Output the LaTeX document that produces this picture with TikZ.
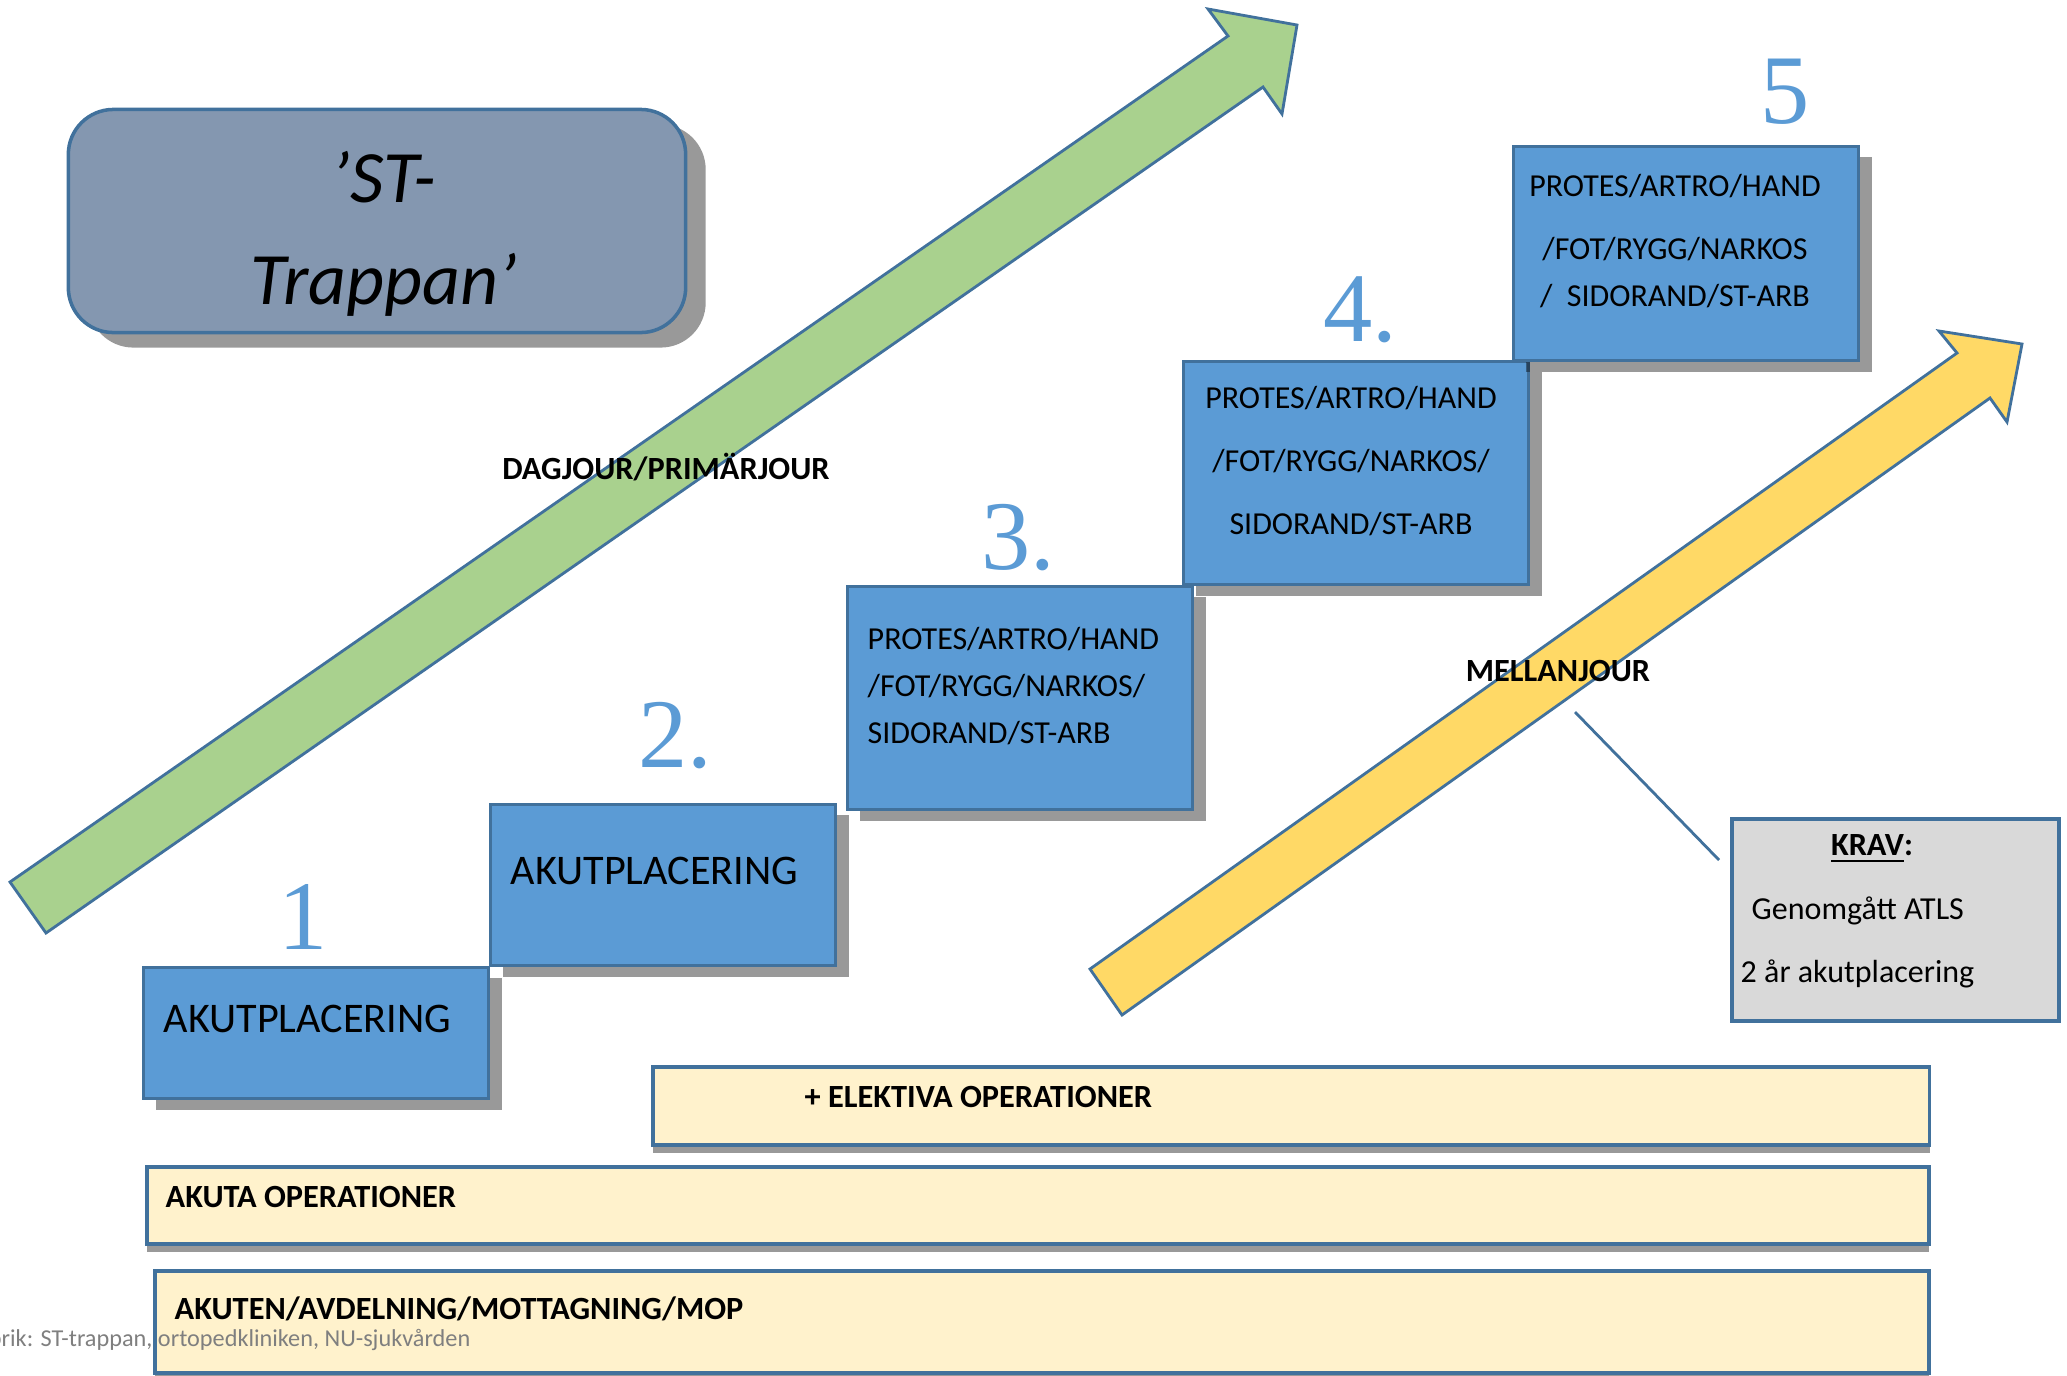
\documentclass[tikz,border=0pt]{standalone}
\usepackage{fontspec}
\setmainfont{Carlito}
\setsansfont{Carlito}
\newfontfamily\numfont{Liberation Serif}
\usetikzlibrary{shadows}

\definecolor{stepblue}{HTML}{5B9BD5}
\definecolor{edgeblue}{HTML}{41719C}
\definecolor{dagjour}{HTML}{A9D18E}
\definecolor{mellan}{HTML}{FFD966}
\definecolor{cream}{HTML}{FFF2CC}
\definecolor{kravgray}{HTML}{D9D9D9}
\definecolor{titlegray}{HTML}{8497B0}
\definecolor{footgray}{HTML}{7F7F7F}

\begin{document}
\begin{tikzpicture}[
   x=0.01cm,y=-0.01cm,
   font=\sffamily,
   shadowed/.style={drop shadow={shadow xshift=.13cm,shadow yshift=-.11cm,fill=black,opacity=.4}},
   stepbox/.style={draw=edgeblue,line width=.8pt,fill=stepblue,anchor=north west,inner sep=0pt,minimum width=3.45cm,shadowed},
   bar/.style={draw=edgeblue,line width=1pt,fill=cream,anchor=north west,inner sep=0pt,drop shadow={shadow xshift=0cm,shadow yshift=-.08cm,fill=black,opacity=.4}},
   num/.style={text=stepblue,font=\numfont\fontsize{28}{28}\selectfont,inner sep=0pt},
   steptext/.style={font=\fontsize{12}{14}\selectfont,inner sep=0pt,anchor=west},
   area/.style={font=\fontsize{9.1}{13.4}\selectfont,inner sep=0pt},
   lbl/.style={font=\bfseries\fontsize{9.2}{11}\selectfont,inner sep=0pt},
   jour/.style={draw=edgeblue,line width=.8pt}]
\useasboundingbox (0,0) rectangle (2067,1375);
\clip (0,0) rectangle (2067,1375);

% title
\node[draw=edgeblue,line width=1pt,fill=titlegray,rounded corners=.45cm,minimum width=6.17cm,minimum height=2.23cm,
      drop shadow={shadow xshift=.2cm,shadow yshift=-.15cm,fill=black,opacity=.4}] (title) at (377,221) {};
\node[font=\itshape\fontsize{21}{29}\selectfont,align=center,inner sep=0pt] (titletxt) at (384,234) {’ST-\\Trappan’};

% jour arrows
\draw[jour,fill=dagjour] (10,882) -- (1228,36) -- (1208,9) -- (1297,25) -- (1282,114) -- (1263,87) -- (46,933) -- cycle;
\draw[jour,fill=mellan] (1090,969) -- (1957,353) -- (1939,331) -- (2022,344) -- (2007,422) -- (1990,398) -- (1122,1015) -- cycle;
\node[lbl] (dag) at (666,467) {DAGJOUR/PRIMÄRJOUR};
\node[lbl] (mellanjour) at (1558,671) {MELLANJOUR};

% steps
\node[stepbox,minimum height=1.31cm] (s1) at (142,966) {};
\node[steptext] (s1txt) at (163,1019) {AKUTPLACERING};
\node[num] (n1) at (303,917) {1};
\node[stepbox,minimum height=1.61cm] (s2) at (489,803) {};
\node[steptext] (s2txt) at (510,871) {AKUTPLACERING};
\node[num] (n2) at (675,736) {2.};
\node[stepbox,minimum height=2.23cm] (s3) at (846,585) {};
\node[area,anchor=west,align=left] (s3txt) at (867,686) {PROTES/ARTRO/HAND\\/FOT/RYGG/NARKOS/\\SIDORAND/ST-ARB};
\node[num] (n3) at (1018,538) {3.};
\node[stepbox,minimum height=2.23cm] (s4) at (1182,360) {};
\node[area,font=\fontsize{9.1}{17.8}\selectfont,align=center] (s4txt) at (1351,461) {PROTES/ARTRO/HAND\\/FOT/RYGG/NARKOS/\\SIDORAND/ST-ARB};
\node[num] (n4) at (1360,310) {4.};
\node[stepbox,minimum height=2.14cm] (s5) at (1512,145) {};
\node[area,align=center] (s5txt) at (1675,241) {PROTES/ARTRO/HAND\\[4.3pt]/FOT/RYGG/NARKOS\\/~~SIDORAND/ST-ARB};
\node[num] (n5) at (1785,92) {5};

% bars
\node[bar,minimum width=12.76cm,minimum height=.78cm] (elektiv) at (651,1065) {};
\node[lbl,anchor=west] (elektivtxt) at (804,1097) {+ ELEKTIVA OPERATIONER};
\node[bar,minimum width=17.81cm,minimum height=.77cm] (akuta) at (145,1165) {};
\node[lbl,anchor=west] (akutatxt) at (165,1197) {AKUTA OPERATIONER};
\node[bar,minimum width=17.73cm,minimum height=1.02cm] (akuten) at (153,1269) {};
\node[lbl,anchor=west] (akutentxt) at (174,1309) {AKUTEN/AVDELNING/MOTTAGNING/MOP};
\node[font=\fontsize{6.9}{8}\selectfont,text=footgray,inner sep=0pt,anchor=base east] (footer) at (471,1346) {Rubrik: ST-trappan, ortopedkliniken, NU-sjukvården};

% krav
\node[draw=edgeblue,line width=1pt,fill=kravgray,anchor=north west,minimum width=3.27cm,minimum height=2.02cm] (krav) at (1730,817) {};
\node[lbl] (kravhead) at (1872,849) {\underline{KRAV}:};
\node[area,anchor=west] (krav1) at (1751,911) {Genomgått ATLS};
\node[area,anchor=west] (krav2) at (1740,974) {2 år akutplacering};
\coordinate (kravpin) at (1575,712);
\draw[edgeblue,line width=.8pt] ([shift={(-11,43)}]krav.north west) -- (kravpin);
\end{tikzpicture}
\end{document}
